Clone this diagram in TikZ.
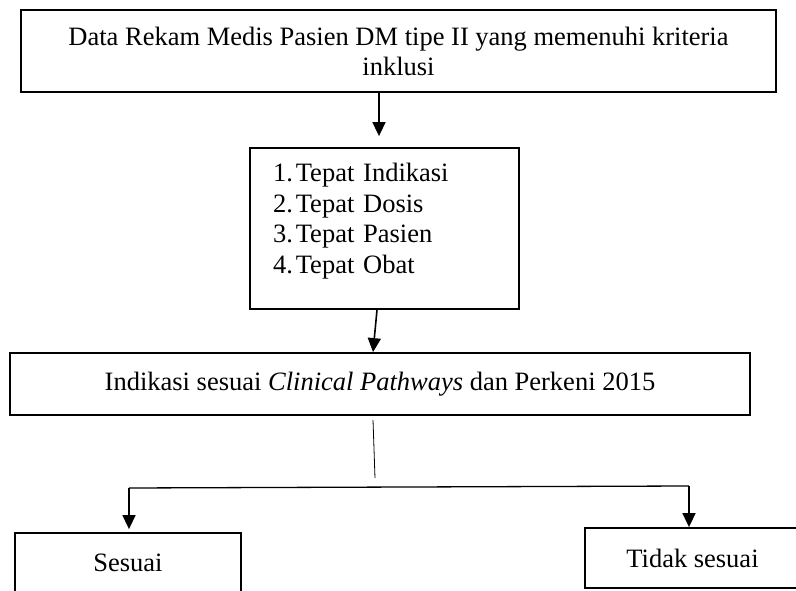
\documentclass[tikz,border=0pt]{standalone}
\usepackage{fontspec}
\setmainfont{Liberation Serif}
\usetikzlibrary{arrows.meta, positioning, calc}
\tikzset{
  >=Latex,
  font=\fontsize{26.5}{30}\selectfont,
  card/.style={
    draw=black, line width=1.8pt, align=center, inner sep=4pt,
    minimum width=#1
  },
  card/.default=200pt,
  arr/.style={-{Triangle[length=14pt,width=13pt]}, line width=1.6pt},
  link/.style={line width=#1},
  link/.default=0.8pt
}

\begin{document}
\begin{tikzpicture}[x=1pt,y=1pt]
  \clip (0,0) rectangle (796,590);
  \node[card=755pt,minimum height=82pt] (data) at (398.5,539)
    {Data Rekam Medis Pasien DM tipe II yang memenuhi kriteria\\inklusi};
  \node[card=269pt,minimum height=161pt,text width=223pt,inner xsep=23pt,align=left] (kriteria) at (384.5,361.5)
    {\raisebox{0pt}[\height][\dimexpr\depth+14pt\relax]{\renewcommand{\arraystretch}{1.02}\begin{tabular}{@{}r@{\hspace{3pt}}l@{}}
      1.&Tepat Indikasi\\2.&Tepat Dosis\\3.&Tepat Pasien\\4.&Tepat Obat
    \end{tabular}}};
  \node[card=740pt,minimum height=62pt] (indikasi) at (380,206)
    {Indikasi sesuai \textit{Clinical Pathways} dan Perkeni 2015};
  \node[card=226pt,minimum height=60pt] (sesuai) at (128,27) {Sesuai};
  \node[card=215pt,minimum height=60pt] (tidak) at (692.5,32) {Tidak sesuai};
  \coordinate (split) at (375,112);
  \coordinate (cabkiri) at (129,102);
  \coordinate (cabkanan) at (689,104);
  \draw[arr] ([xshift=-19.5pt]data.south) -- ([xshift=-5.5pt,yshift=11pt]kriteria.north);
  \draw[arr] ([xshift=-7.5pt]kriteria.south) -- ([xshift=-7pt]indikasi.north);
  \draw[link] ([xshift=-7pt,yshift=-4pt]indikasi.south) -- (split);
  \draw[link=1.3pt] (cabkiri) -- (cabkanan);
  \draw[arr,shorten >=3pt] (cabkiri) -- (cabkiri |- sesuai.north);
  \draw[arr] (cabkanan) -- (cabkanan |- tidak.north);
\end{tikzpicture}
\end{document}
